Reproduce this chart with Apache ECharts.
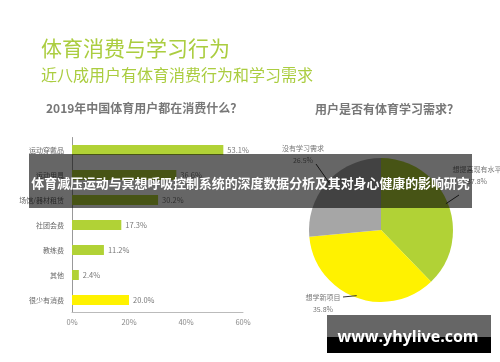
<!DOCTYPE html>
<html>
<head>
<meta charset="utf-8">
<script src="https://cdn.jsdelivr.net/npm/echarts@6/dist/echarts.min.js"></script>
<style>
html,body{margin:0;padding:0;background:#fff;}
#chart{width:500px;height:362px;}
</style>
</head>
<body>
<div id="chart"></div>
<script>
// ---- data ----
const categories = ['运动穿戴品', '运动用具', '场馆/器材租赁', '社团会费', '教练费', '其他', '很少有消费'];
const spendValues = [53.1, 36.6, 30.2, 17.3, 11.2, 2.4, 20.0];
const xTickValues = [0, 20, 40, 60];
const pieNames = ['想提高现有水平', '想学新项目', '没有学习需求'];
const pieValues = [37.8, 35.8, 26.5];

// ---- styling / layout (not data) ----
const FONT = '"Noto Sans CJK SC", "Noto Sans", sans-serif';
const GREEN = '#b1d236';
const YELLOW = '#fff200';
const GRAY = '#a6a6a6';
const barColors = [GREEN, GREEN, GREEN, GREEN, GREEN, GREEN, YELLOW];
const pieColors = [GREEN, YELLOW, GRAY];
const PIE_CX = 381, PIE_CY = 230, PIE_R = 72;
const pieLabelPos = [[477, 175], [323, 303], [303, 154]];
const pieLineEnd = [[459, 195], [343, 297], [316, 164]];

// mid-angle edge point of each slice, derived from the values
const pieTotal = pieValues.reduce((a, b) => a + b, 0);
function sliceEdge(i) {
  let before = 0;
  for (let k = 0; k < i; k++) before += pieValues[k];
  const mid = (before + pieValues[i] / 2) / pieTotal * 2 * Math.PI;
  return [PIE_CX + (PIE_R - 2) * Math.sin(mid), PIE_CY - (PIE_R - 2) * Math.cos(mid)];
}

const chart = echarts.init(document.getElementById('chart'), null, {renderer: 'canvas'});

const leaderLines = pieValues.map((v, i) => ({
  type: 'polyline', z: 50,
  shape: {points: [sliceEdge(i), pieLineEnd[i]]},
  style: {stroke: '#333', lineWidth: 1, fill: null}
}));

const option = {
  backgroundColor: '#fff',
  animation: false,
  textStyle: {fontFamily: FONT},
  title: [
    {text: '体育消费与学习行为', left: 36, top: 33, textStyle: {fontFamily: FONT, fontSize: 21, fontWeight: 'normal', color: '#abcd40'}},
    {text: '近八成用户有体育消费行为和学习需求', left: 36, top: 62, textStyle: {fontFamily: FONT, fontSize: 16, fontWeight: 'normal', color: '#abcd40'}},
    {text: '2019年中国体育用户都在消费什么？', left: 41, top: 97, textStyle: {fontFamily: FONT, fontSize: 12, fontWeight: 'bold', color: '#777'}},
    {text: '用户是否有体育学习需求？', left: 310, top: 98, textStyle: {fontFamily: FONT, fontSize: 12, fontWeight: 'bold', color: '#777'}}
  ],
  grid: {left: 72, right: 257, top: 137.5, bottom: 49.5, containLabel: false},
  xAxis: {
    type: 'value', min: 0, max: 60, interval: 20,
    axisLine: {show: true, lineStyle: {color: '#bbb', width: 1}},
    axisTick: {show: false},
    splitLine: {show: false},
    axisLabel: {formatter: '{value}%', color: '#888', fontSize: 7.5, margin: 6, fontFamily: FONT,
      customValues: xTickValues}
  },
  yAxis: {
    type: 'category', data: categories, inverse: true,
    axisLine: {show: true, lineStyle: {color: '#999', width: 1}},
    axisTick: {show: false},
    axisLabel: {color: '#666', fontSize: 7, margin: 8, fontFamily: FONT}
  },
  series: [
    {
      type: 'bar',
      data: spendValues.map((v, i) => ({value: v, itemStyle: {color: barColors[i]}})),
      barWidth: 10,
      label: {show: true, position: 'right', distance: 4, color: '#777', fontSize: 7.5, fontFamily: FONT,
        formatter: p => p.value.toFixed(1) + '%'}
    },
    {
      type: 'pie',
      center: [PIE_CX, PIE_CY],
      radius: PIE_R,
      startAngle: 90,
      clockwise: true,
      data: pieNames.map((n, i) => ({name: n, value: pieValues[i], itemStyle: {color: pieColors[i]}})),
      label: {show: true, position: 'outside', formatter: p => p.name + '\n' + p.value.toFixed(1) + '%',
        color: '#777', fontSize: 7, lineHeight: 12, align: 'center', fontFamily: FONT,
        overflow: 'none', width: 80},
      labelLine: {show: false},
      labelLayout: p => ({
        x: pieLabelPos[p.dataIndex][0], y: pieLabelPos[p.dataIndex][1],
        align: 'center', verticalAlign: 'middle'
      }),
      emphasis: {disabled: true}
    }
  ],
  graphic: leaderLines.concat([
    {type: 'rect', z: 100, shape: {x: 29, y: 154, width: 443, height: 54}, style: {fill: 'rgba(0,0,0,0.6)'}},
    {type: 'text', z: 101, x: 250.5, y: 183,
      style: {text: '体育减压运动与冥想呼吸控制系统的深度数据分析及其对身心健康的影响研究', fill: '#fff',
        font: 'bold 12.9px "Noto Sans CJK SC"', textAlign: 'center', textVerticalAlign: 'middle'}},
    {type: 'rect', z: 100, shape: {x: 327, y: 315, width: 164, height: 22}, style: {fill: 'rgba(0,0,0,0.6)'}},
    {type: 'rect', z: 100, shape: {x: 327, y: 337, width: 164, height: 16}, style: {fill: '#000'}},
    {type: 'text', z: 101, x: 408, y: 337,
      style: {text: 'www.yhylive.com', fill: '#fff', font: 'bold 16px "Open Sans"', textAlign: 'center', textVerticalAlign: 'middle'}}
  ])
};
chart.setOption(option);
</script>
</body>
</html>
